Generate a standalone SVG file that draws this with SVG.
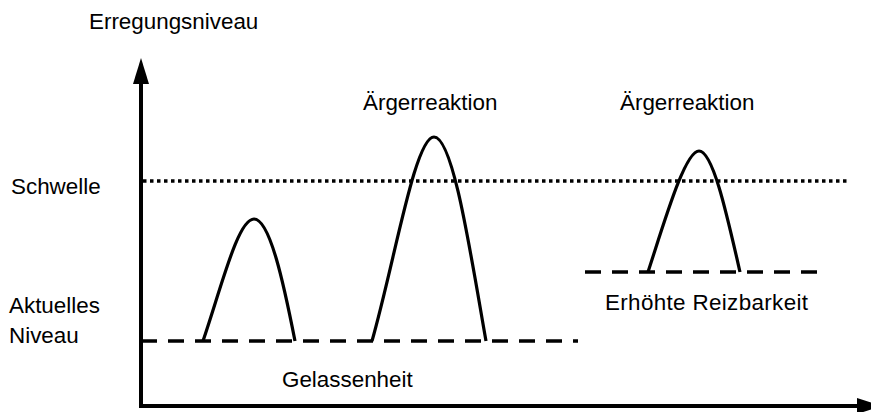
<svg xmlns="http://www.w3.org/2000/svg" width="871" height="412" viewBox="0 0 871 412">
<style>
text{font-family:"Liberation Sans",Arial,sans-serif;font-size:22.4px;fill:#000}
.axis{stroke:#000;stroke-width:4;fill:none}
.curve{stroke:#000;stroke-width:3.2;fill:none;stroke-linecap:butt}
.dash{stroke:#000;stroke-width:3.5;fill:none;stroke-dasharray:16 11}
.dot{stroke:#000;stroke-width:3.5;fill:none;stroke-dasharray:3.5 3.5}
</style>
<rect width="871" height="412" fill="#fff"/>
<g id="axes">
<line class="axis" x1="141" y1="408" x2="141" y2="80"/>
<polygon points="141,58 133,84 149,84" fill="#000"/>
<line class="axis" x1="139" y1="406" x2="860" y2="406"/>
<polygon points="882,406 857,398 857,414" fill="#000"/>
</g>
<g id="levels">
<line class="dot" x1="143" y1="181" x2="848" y2="181"/>
<line class="dash" x1="141" y1="341" x2="578" y2="341"/>
<line class="dash" x1="585" y1="272" x2="820" y2="272"/>
</g>
<g id="curves">
<path class="curve" d="M203,341 C222,285 238,219 254,219 C270,219 284,285 295,341"/>
<path class="curve" d="M372,341 C395,260 415,137 434,137 C453,137 470,250 486,341"/>
<path class="curve" d="M648,272 C665,220 685,151 699,151 C713,151 727,215 740,272"/>
</g>
<g id="labels">
<text x="89" y="29">Erregungsniveau</text>
<text x="11" y="194">Schwelle</text>
<text x="9" y="313">Aktuelles</text>
<text x="9" y="343">Niveau</text>
<text x="363" y="110">Ärgerreaktion</text>
<text x="620" y="110">Ärgerreaktion</text>
<text x="605" y="310" textLength="203">Erhöhte Reizbarkeit</text>
<text x="282" y="387">Gelassenheit</text>
</g>
</svg>
